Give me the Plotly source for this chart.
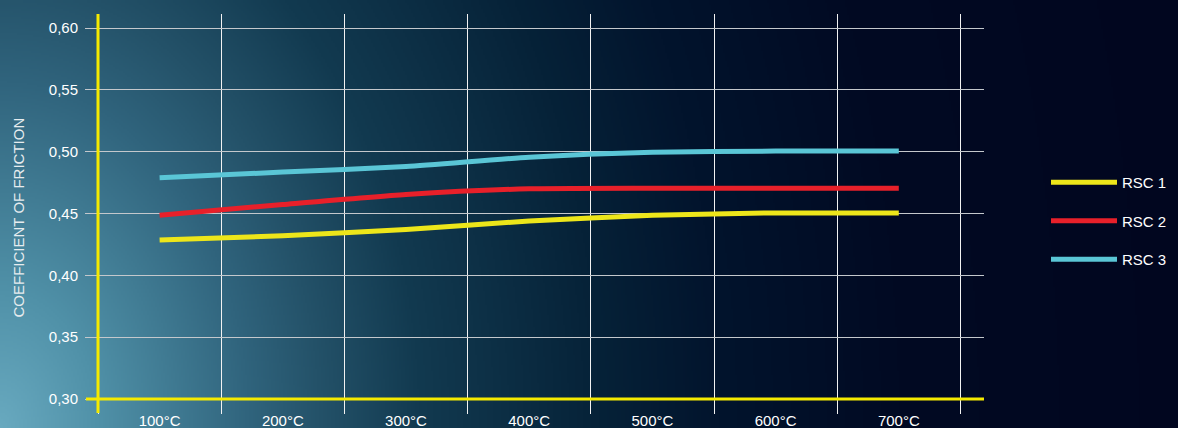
import base64, struct, zlib
import numpy as np
import plotly.graph_objects as go

# ---------------- data ----------------
temperatures = ["100°C", "200°C", "300°C", "400°C", "500°C", "600°C", "700°C"]
rsc1 = [0.4285, 0.432, 0.437, 0.444, 0.4485, 0.4505, 0.4505]
rsc2 = [0.4486, 0.4573, 0.4654, 0.470, 0.4705, 0.4705, 0.4705]
rsc3 = [0.479, 0.4835, 0.488, 0.4955, 0.4995, 0.5005, 0.5005]
series_names = ["RSC 1", "RSC 2", "RSC 3"]
series_colors = ["#ede61a", "#e8202a", "#5ac6d6"]
y_ticks = [0.30, 0.35, 0.40, 0.45, 0.50, 0.55, 0.60]

W, H = 1178, 428
ML, MR, MT, MB = 98, W - 984, 14, H - 399
PW, PH = W - ML - MR, H - MT - MB
CAT_W = 123.2
Y_PER_PX = 0.05 / 61.83


# ---------------- background gradient (PNG data URI) ----------------
def make_bg(w, h, scale):
    xs = (np.arange(w) + 0.5) * scale
    ys = (np.arange(h) + 0.5) * scale
    X, Y = np.meshgrid(xs, ys)
    t = np.sqrt(X ** 2 + (0.72 * (H - Y)) ** 2)
    stops_t = [0, 100, 250, 320, 420, 600, 720, 900, 1300]
    stops_c = [(105, 170, 192), (80, 145, 168), (48, 100, 125), (36, 82, 105),
               (18, 58, 80), (6, 34, 56), (2, 20, 45), (1, 10, 35), (1, 5, 30)]
    img = np.zeros((h, w, 3), dtype=np.uint8)
    for k in range(3):
        img[..., k] = np.interp(t, stops_t, [c[k] for c in stops_c]).astype(np.uint8)
    raw = b"".join(b"\x00" + img[r].tobytes() for r in range(h))

    def chunk(tag, data):
        c = struct.pack(">I", len(data)) + tag + data
        return c + struct.pack(">I", zlib.crc32(tag + data) & 0xffffffff)

    png = b"\x89PNG\r\n\x1a\n"
    png += chunk(b"IHDR", struct.pack(">IIBBBBB", w, h, 8, 2, 0, 0, 0))
    png += chunk(b"IDAT", zlib.compress(raw, 9))
    png += chunk(b"IEND", b"")
    return "data:image/png;base64," + base64.b64encode(png).decode()


bg_uri = make_bg(W // 2, H // 2, 2)

# ---------------- figure ----------------
fig = go.Figure()
for name, vals, col in zip(series_names, [rsc1, rsc2, rsc3], series_colors):
    fig.add_trace(go.Scatter(
        x=temperatures, y=vals, name=name, mode="lines",
        line=dict(color=col, width=5, shape="spline", smoothing=0.6),
        legendgroup=name,
    ))

font_family = "Liberation Sans, Arial, sans-serif"
x_range = [-0.5, -0.5 + PW / CAT_W]
y_range = [0.30, 0.30 + PH * Y_PER_PX]

fig.update_layout(
    width=W, height=H, autosize=False,
    margin=dict(l=ML, r=MR, t=MT, b=MB, pad=0, autoexpand=False),
    paper_bgcolor="#01051e",
    plot_bgcolor="rgba(0,0,0,0)",
    separators=",.",
    font=dict(family=font_family, size=15, color="#ffffff"),
    showlegend=True,
    legend=dict(
        x=(1046 - ML) / PW, xanchor="left",
        y=1 - (166 - MT) / PH, yanchor="top",
        bgcolor="rgba(0,0,0,0)",
        font=dict(size=15, color="#ffffff"),
        tracegroupgap=16, itemwidth=66,
    ),
    xaxis=dict(
        type="category", range=x_range, tickson="boundaries",
        showgrid=True, gridcolor="#f2f2f2", gridwidth=1,
        ticks="outside", ticklen=14, tickcolor="#f2f2f2", tickwidth=1,
        showline=False, zeroline=False, ticklabelstandoff=11, automargin=False,
        tickfont=dict(size=15, color="#ffffff"),
    ),
    yaxis=dict(
        range=y_range, tickvals=y_ticks, tickformat=".2f",
        showgrid=True, gridcolor="#c4c8cc", gridwidth=1.3,
        ticks="outside", ticklen=12, tickcolor="#c4c8cc", tickwidth=1.3,
        showline=False, zeroline=False, ticklabelstandoff=4, automargin=False,
        tickfont=dict(size=15, color="#ffffff"),
    ),
    images=[dict(
        source=bg_uri, xref="paper", yref="paper",
        x=-ML / PW, y=1 + MT / PH, sizex=W / PW, sizey=H / PH,
        xanchor="left", yanchor="top", sizing="stretch", layer="below",
    )],
    shapes=[
        dict(type="line", xref="paper", yref="paper", x0=0, x1=0,
             y0=-14 / PH, y1=1, line=dict(color="#f5ea00", width=3), layer="above"),
        dict(type="line", xref="paper", yref="paper", x0=-12 / PW, x1=1,
             y0=0, y1=0, line=dict(color="#f5ea00", width=3), layer="above"),
    ],
    annotations=[dict(
        text="COEFFICIENT OF FRICTION", xref="paper", yref="paper",
        x=(18.5 - ML) / PW, y=(399 - 218) / PH, textangle=-90,
        showarrow=False, xanchor="center", yanchor="middle",
        font=dict(size=15, color="#e6ecef"),
    )],
)

fig.write_html(
    "out.html",
    config={"displayModeBar": False},
    post_script="document.body.style.margin='0';document.body.style.overflow='hidden';",
)
